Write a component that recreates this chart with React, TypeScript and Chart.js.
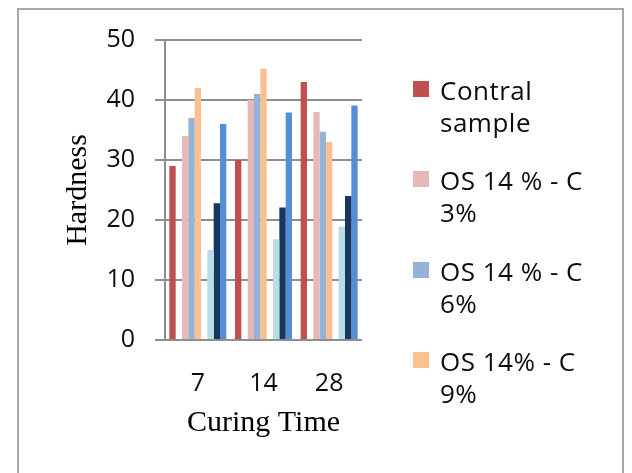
import React, { useEffect, useRef } from 'react';
import { Chart, registerables } from 'chart.js';

Chart.register(...registerables);

// ---- data ----
const categories = ['7', '14', '28'];
const contralSample = [29, 30, 43];
const os14c3 = [34, 40, 38];
const os14c6 = [37, 41, 34.7];
const os14c9 = [42, 45.2, 33];
const series5 = [15, 16.8, 18.9];
const series6 = [22.8, 22.1, 24];
const series7 = [36, 37.9, 39.1];
const blankSeries = [null, null, null];
const yMin = 0;
const yMax = 50;
const yStep = 10;

const seriesNames = ['Contral sample', '', 'OS 14 % - C 3%', 'OS 14 % - C 6%', 'OS 14% - C 9%', '', 'Series 5', 'Series 6', 'Series 7'];
const seriesData = [contralSample, blankSeries, os14c3, os14c6, os14c9, blankSeries, series5, series6, series7];
const seriesColors = ['#C0504D', '#ffffff', '#E6B9B8', '#95B3D7', '#FAC090', '#ffffff', '#B7DEE8', '#17375E', '#558ED5'];

const legendLines = [
  ['Contral', 'sample'],
  ['OS 14 % - C', '3%'],
  ['OS 14 % - C', '6%'],
  ['OS 14% - C', '9%'],
];
const legendColors = ['#C0504D', '#E6B9B8', '#95B3D7', '#FAC090'];

export default function App() {
  const canvasRef = useRef<HTMLCanvasElement | null>(null);

  useEffect(() => {
    const canvas = canvasRef.current;
    if (!canvas) return;
    const gridColor = '#8e8e8e';
    const chart = new Chart(canvas, {
      type: 'bar',
      data: {
        labels: categories,
        datasets: seriesData.map((d, i) => ({
          label: seriesNames[i],
          data: d as any,
          backgroundColor: seriesColors[i],
          borderWidth: 0,
          categoryPercentage: 0.868,
          barPercentage: 1,
        })),
      },
      options: {
        responsive: false,
        maintainAspectRatio: false,
        animation: false,
        layout: { padding: { left: 0, top: 40, right: 270, bottom: 0 } },
        plugins: {
          legend: { display: false },
          tooltip: { enabled: false },
        },
        scales: {
          x: {
            grid: { display: false, drawTicks: false },
            border: { display: false },
            ticks: {
              padding: 29,
              color: '#0d0d0d',
              font: { family: "'Open Sans'", size: 25, weight: '500' as any },
            },
            title: {
              display: true,
              text: 'Curing Time',
              color: '#000',
              font: { family: "'Liberation Serif'", size: 30 },
              padding: { top: 0, bottom: 32 },
            },
            afterFit: (s: any) => {
              s.height = 133;
            },
          },
          y: {
            min: yMin,
            max: yMax,
            ticks: {
              stepSize: yStep,
              padding: 20,
              color: '#0d0d0d',
              font: { family: "'Open Sans'", size: 25, weight: '500' as any },
            },
            grid: { color: gridColor, lineWidth: 2, drawTicks: true, tickLength: 10 },
            border: { display: true, color: gridColor, width: 2 },
            title: {
              display: true,
              text: 'Hardness',
              color: '#000',
              font: { family: "'Liberation Serif'", size: 30 },
              padding: { top: 60, bottom: 0 },
            },
            afterFit: (s: any) => {
              s.width = 165;
            },
          },
        },
      },
    });
    return () => chart.destroy();
  }, []);

  return (
    <div
      style={{
        position: 'fixed',
        left: 0,
        top: 0,
        width: 632,
        height: 473,
        background: '#ffffff',
        overflow: 'hidden',
      }}
    >
      <div
        style={{
          position: 'absolute',
          left: 17,
          top: 8,
          width: 607,
          height: 520,
          boxSizing: 'border-box',
          border: '2px solid #a8a8a8',
        }}
      />
      <canvas
        ref={canvasRef}
        width={632}
        height={473}
        style={{ position: 'absolute', left: 0, top: 0, width: 632, height: 473 }}
      />
      {legendLines.map((lines, i) => (
        <div
          key={i}
          style={{
            position: 'absolute',
            left: 413,
            top: 74 + i * 90.4,
          }}
        >
          <span
            style={{
              position: 'absolute',
              left: 0,
              top: 7,
              width: 16,
              height: 16,
              background: legendColors[i],
            }}
          />
          <div
            style={{
              marginLeft: 27,
              fontFamily: "'Open Sans'",
              fontSize: 26,
              fontWeight: 500,
              lineHeight: '32px',
              letterSpacing: '0.5px',
              color: '#0d0d0d',
              whiteSpace: 'nowrap',
            }}
          >
            {lines.map((l, j) => (
              <div key={j}>{l}</div>
            ))}
          </div>
        </div>
      ))}
    </div>
  );
}
